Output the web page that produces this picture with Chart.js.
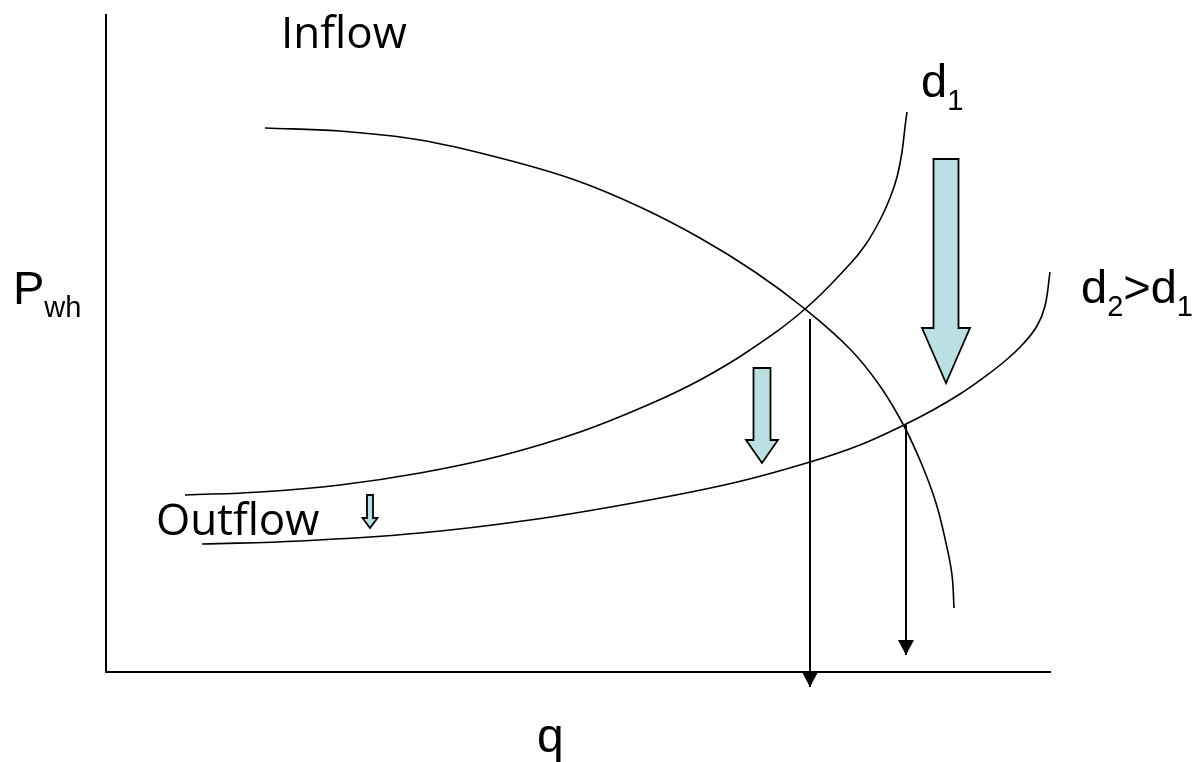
<!DOCTYPE html>
<html>
<head>
<meta charset="utf-8">
<script src="https://cdn.jsdelivr.net/npm/chart.js@4.4.1/dist/chart.umd.min.js"></script>
<style>
  html, body { margin: 0; padding: 0; background: #fff; }
  #wrap { width: 1197px; height: 762px; }
</style>
</head>
<body>
<div id="wrap"><canvas id="myChart" width="1197" height="762"></canvas></div>
<script>
// Values. q = rate, p = wellhead pressure (arbitrary units)
const axisMaxQ = 9.44;
const axisMaxP = 6.57;

const inflowQ = [1.59, 2.34, 3.14, 3.94, 4.69, 5.34, 5.94, 6.49, 6.99, 7.44, 7.74, 7.98, 8.16, 8.30, 8.40, 8.46, 8.48];
const inflowP = [5.44, 5.41, 5.32, 5.14, 4.92, 4.65, 4.34, 4.00, 3.63, 3.23, 2.86, 2.46, 2.07, 1.69, 1.29, 0.97, 0.64];

// outflow curve, tubing diameter d1
const outD1Q = [0.79, 1.54, 2.34, 3.14, 3.94, 4.74, 5.44, 5.94, 6.44, 6.99, 7.44, 7.60, 7.74, 7.84, 7.91, 7.96, 7.99, 8.01];
const outD1P = [1.77, 1.80, 1.87, 1.99, 2.16, 2.40, 2.68, 2.92, 3.22, 3.63, 4.08, 4.28, 4.52, 4.74, 4.95, 5.20, 5.45, 5.60];

// outflow curve, tubing diameter d2 > d1
const outD2Q = [0.96, 1.94, 3.14, 4.24, 5.27, 6.27, 7.04, 7.54, 7.98, 8.27, 8.54, 8.77, 8.99, 9.17, 9.31, 9.39, 9.44];
const outD2P = [1.28, 1.31, 1.39, 1.52, 1.69, 1.89, 2.10, 2.27, 2.47, 2.62, 2.78, 2.94, 3.11, 3.28, 3.46, 3.66, 4.00];

// operating points dropped down onto the q axis
const dropQ = [7.04, 8.00];
const dropFromP = [3.53, 2.47];
const dropToP = [-0.15, 0.17];

// block arrows showing the shift of the outflow curve
const shiftQ = [8.40, 6.56, 2.64];
const shiftFromP = [5.13, 3.04, 1.77];
const shiftToP = [2.89, 2.09, 1.44];

// text labels, [text, isSubscript]
const labelParts = [
  [['Inflow', 0]],
  [['Outflow', 0]],
  [['P', 0], ['wh', 1]],
  [['d', 0], ['1', 1]],
  [['d', 0], ['2', 1], ['>d', 0], ['1', 1]],
  [['q', 0]]
];
const labelQ = [1.75, 0.50, -0.93, 8.15, 9.75, 4.31];
const labelP = [6.24, 1.37, 3.68, 5.75, 3.69, -0.80];

function toPoints(xs, ys){
    return xs.map((v, i) => ({x: v, y: ys[i]}));
}

const curveStyle = {
    showLine: true,
    borderColor: '#000',
    borderWidth: 1.6,
    pointRadius: 0,
    tension: 0.4,
    fill: false,
    clip: false
};

const datasets = [
    Object.assign({label: 'Inflow', data: toPoints(inflowQ, inflowP)}, curveStyle),
    Object.assign({label: 'Outflow d1', data: toPoints(outD1Q, outD1P)}, curveStyle),
    Object.assign({label: 'Outflow d2', data: toPoints(outD2Q, outD2P)}, curveStyle)
];
for(let i = 0; i < dropQ.length; i++){
    datasets.push(Object.assign({}, curveStyle, {
        label: 'drop ' + (i + 1),
        data: [{x: dropQ[i], y: dropFromP[i]}, {x: dropQ[i], y: dropToP[i]}],
        tension: 0,
        borderWidth: 2
    }));
}

// arrow heads and block arrows, drawn through the scales
const overlay = {
    id: 'overlay',
    afterDatasetsDraw(chart, args, opts){
        const ctx = chart.ctx;
        const sx = chart.scales.x, sy = chart.scales.y;
        ctx.save();

        // small solid heads on the drop lines
        ctx.fillStyle = '#000';
        for(let i = 0; i < dropQ.length; i++){
            const px = sx.getPixelForValue(dropQ[i]);
            const tip = sy.getPixelForValue(dropToP[i]);
            ctx.beginPath();
            ctx.moveTo(px, tip);
            ctx.lineTo(px - opts.headW / 2, tip - opts.headL);
            ctx.lineTo(px + opts.headW / 2, tip - opts.headL);
            ctx.closePath();
            ctx.fill();
        }

        // light blue block arrows
        ctx.fillStyle = opts.blockFill;
        ctx.strokeStyle = '#000';
        ctx.lineWidth = opts.blockLine;
        ctx.lineJoin = 'miter';
        for(let i = 0; i < shiftQ.length; i++){
            const cx = sx.getPixelForValue(shiftQ[i]);
            const top = sy.getPixelForValue(shiftFromP[i]);
            const tip = sy.getPixelForValue(shiftToP[i]);
            const sw = opts.shaftW[i] / 2, hw = opts.blockHeadW[i] / 2;
            const base = tip - opts.blockHeadL[i];
            ctx.beginPath();
            ctx.moveTo(cx - sw, top);
            ctx.lineTo(cx + sw, top);
            ctx.lineTo(cx + sw, base);
            ctx.lineTo(cx + hw, base);
            ctx.lineTo(cx, tip);
            ctx.lineTo(cx - hw, base);
            ctx.lineTo(cx - sw, base);
            ctx.closePath();
            ctx.fill();
            ctx.stroke();
        }

        // labels
        ctx.fillStyle = '#000';
        ctx.textBaseline = 'alphabetic';
        ctx.textAlign = 'left';
        for(let i = 0; i < labelParts.length; i++){
            let cx = sx.getPixelForValue(labelQ[i]);
            const by = sy.getPixelForValue(labelP[i]);
            const fam = opts.family[i];
            for(const [txt, sub] of labelParts[i]){
                const size = sub ? opts.subSize : opts.size[i];
                ctx.font = size + 'px ' + fam;
                ctx.fillText(txt, cx, by + (sub ? opts.subShift : 0));
                cx += ctx.measureText(txt).width;
            }
        }
        ctx.restore();
    }
};

const ctx = document.getElementById('myChart').getContext('2d');
const chart = new Chart(ctx, {
    type: 'scatter',
    data: {datasets: datasets},
    options: {
        responsive: false,
        devicePixelRatio: 1,
        animation: false,
        events: [],
        layout: {padding: {left: 106, top: 15, right: 147, bottom: 90}},
        plugins: {
            legend: {display: false},
            tooltip: {enabled: false},
            overlay: {
                headW: 16, headL: 15,
                blockFill: '#bbe0e3', blockLine: 1.8,
                shaftW: [25, 17, 6], blockHeadW: [48, 32, 15], blockHeadL: [55, 23, 10],
                family: ['"Open Sans"', '"Open Sans"', '"Liberation Sans", Arial', '"Liberation Sans", Arial', '"Liberation Sans", Arial', '"Liberation Sans", Arial'],
                size: [44, 44, 47, 47, 47, 48],
                subSize: 29, subShift: 13
            }
        },
        scales: {
            x: {
                type: 'linear', min: 0, max: axisMaxQ,
                ticks: {display: false}, grid: {display: false},
                border: {display: true, color: '#000', width: 2},
                afterFit: (s) => { s.height = 0; }
            },
            y: {
                type: 'linear', min: 0, max: axisMaxP,
                ticks: {display: false}, grid: {display: false},
                border: {display: true, color: '#000', width: 2},
                afterFit: (s) => { s.width = 0; }
            }
        }
    },
    plugins: [overlay]
});
</script>
</body>
</html>
